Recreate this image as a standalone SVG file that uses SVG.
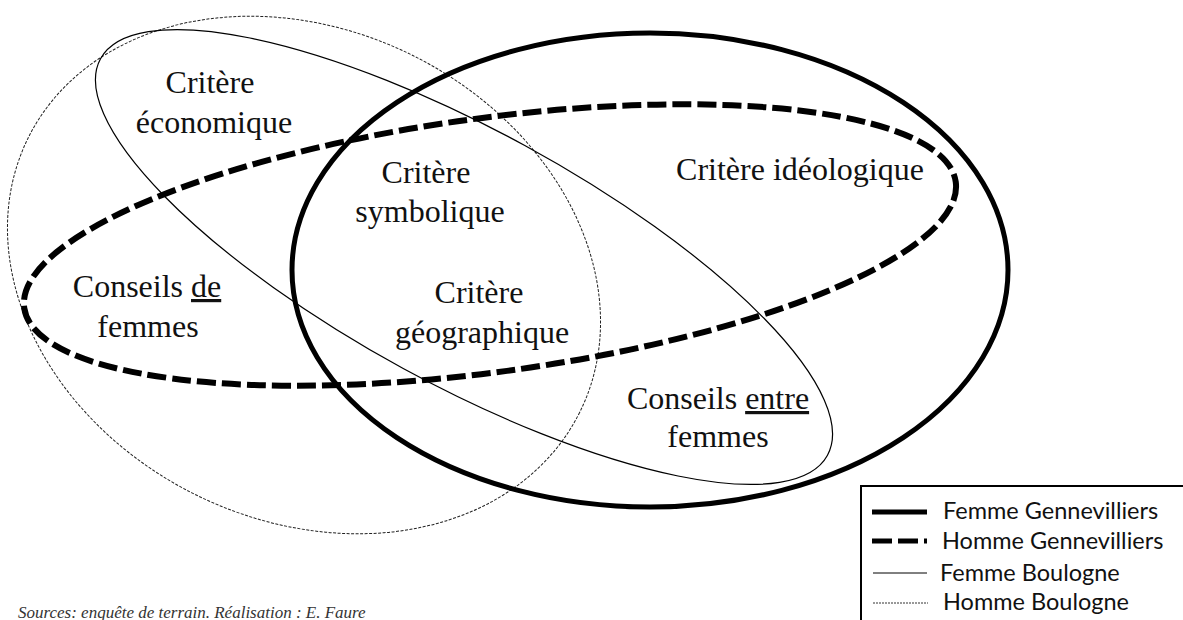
<svg xmlns="http://www.w3.org/2000/svg" width="1183" height="620" viewBox="0 0 1183 620">
  <style>
    .set { fill: none; stroke: #000; }
    .hb { stroke: #222; stroke-width: 1; stroke-dasharray: 3 1.5; }
    .fb { stroke-width: 1.2; }
    .fg { stroke-width: 5; }
    .hg { stroke-width: 6; stroke-dasharray: 19 6; }
    .lbl { font-family: "Liberation Serif", "Times New Roman", serif; font-size: 32px; fill: #111; text-anchor: middle; }
    .u { text-decoration: underline; }
    .leg { font-family: Lato, "Liberation Sans", Arial, sans-serif; font-size: 23.5px; fill: #111; }
    .src { font-family: "Liberation Serif", "Times New Roman", serif; font-style: italic; font-size: 17px; fill: #333; }
  </style>
  <rect width="1183" height="620" fill="#fff"/>

  <g id="homme-boulogne">
    <ellipse class="set hb" cx="304" cy="275" rx="308" ry="245" transform="rotate(26.5 304 275)"/>
  </g>
  <g id="femme-boulogne">
    <ellipse class="set fb" cx="464" cy="257" rx="414" ry="127" transform="rotate(28.6 464 257)"/>
  </g>
  <g id="femme-gennevilliers">
    <ellipse class="set fg" cx="650" cy="270" rx="358" ry="237"/>
  </g>
  <g id="homme-gennevilliers">
    <ellipse class="set hg" cx="490" cy="245" rx="470" ry="127" transform="rotate(-7.7 490 245)"/>
  </g>

  <g id="connectors"></g>

  <g id="critere-economique">
    <text class="lbl" x="210" y="93">Critère</text>
    <text class="lbl" x="214" y="133">économique</text>
  </g>
  <g id="critere-symbolique">
    <text class="lbl" x="426" y="183">Critère</text>
    <text class="lbl" x="430" y="222">symbolique</text>
  </g>
  <g id="critere-ideologique">
    <text class="lbl" x="800" y="180">Critère idéologique</text>
  </g>
  <g id="conseils-de-femmes">
    <text class="lbl" x="147" y="297">Conseils <tspan class="u">de</tspan></text>
    <text class="lbl" x="148" y="337">femmes</text>
  </g>
  <g id="critere-geographique">
    <text class="lbl" x="479" y="303">Critère</text>
    <text class="lbl" x="482" y="343">géographique</text>
  </g>
  <g id="conseils-entre-femmes">
    <text class="lbl" x="718" y="409">Conseils <tspan class="u">entre</tspan></text>
    <text class="lbl" x="718" y="447">femmes</text>
  </g>

  <g id="legend">
    <rect x="861" y="486" width="340" height="150" fill="#fff" stroke="#000" stroke-width="2"/>
    <line x1="872" y1="512" x2="927" y2="512" stroke="#000" stroke-width="5"/>
    <text class="leg" x="943" y="519">Femme Gennevilliers</text>
    <line x1="872" y1="541" x2="927" y2="541" stroke="#000" stroke-width="5" stroke-dasharray="20 6"/>
    <text class="leg" x="942" y="549">Homme Gennevilliers</text>
    <line x1="873" y1="573" x2="927" y2="573" stroke="#000" stroke-width="1"/>
    <text class="leg" x="940" y="581">Femme Boulogne</text>
    <line x1="873" y1="603" x2="928" y2="603" stroke="#333" stroke-width="1" stroke-dasharray="2 1"/>
    <text class="leg" x="943" y="610">Homme Boulogne</text>
  </g>

  <g id="source">
    <text class="src" x="18" y="618">Sources: enquête de terrain. Réalisation : E. Faure</text>
  </g>
</svg>
